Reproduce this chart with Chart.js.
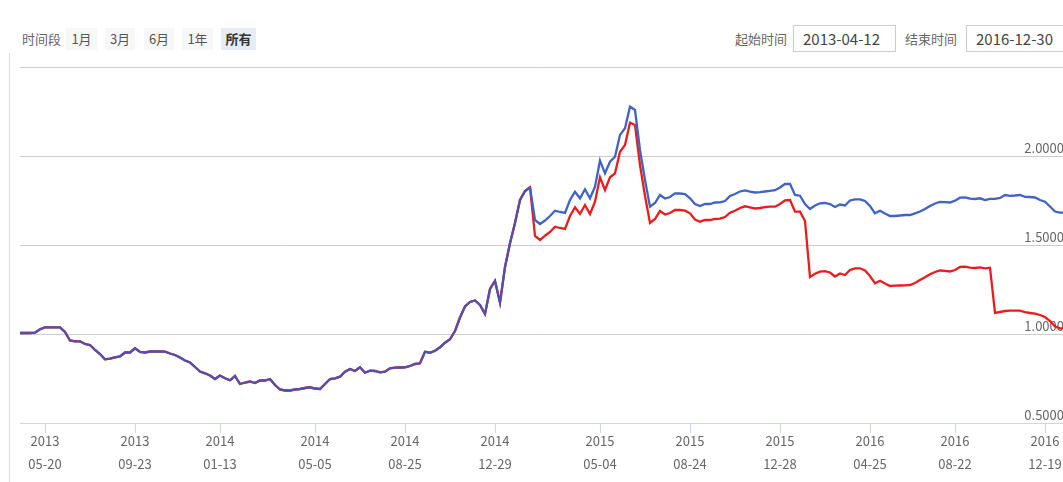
<!DOCTYPE html>
<html>
<head>
<meta charset="utf-8">
<script src="https://cdn.jsdelivr.net/npm/chart.js@4"></script>
<style>
  html, body { margin: 0; padding: 0; background: #fff; }
  body { width: 1063px; height: 482px; overflow: hidden; position: relative;
         font-family: "Noto Sans CJK SC", "Noto Sans", sans-serif; color: #666; }
  .lbl { position: absolute; top: 28px; height: 22px; line-height: 22px; font-size: 13px; color: #666; }
  .btn { position: absolute; top: 28px; height: 22px; line-height: 22px; font-size: 13px;
         color: #555; background: #f7f7f7; text-align: center; }
  .btn.on { background: #e6ebf5; color: #333; font-weight: bold; }
  .box { position: absolute; top: 25px; height: 25px; line-height: 25px; border: 1px solid #ccc;
         font-size: 15px; color: #444; padding-left: 9px; box-sizing: content-box; }
  #frame { position: absolute; left: 9px; top: 53px; width: 1px; height: 430px; background: #ddd; }
  #wrap { position: absolute; left: 0; top: 60px; width: 1066px; height: 422px; }
</style>
</head>
<body>
<div class="lbl" style="left:22px">时间段</div>
<div class="btn" style="left:66px;width:31px">1月</div>
<div class="btn" style="left:105px;width:30px">3月</div>
<div class="btn" style="left:144px;width:30px">6月</div>
<div class="btn" style="left:182px;width:31px">1年</div>
<div class="btn on" style="left:221px;width:35px">所有</div>

<div class="lbl" style="left:735px">起始时间</div>
<div class="box" style="left:793px;width:92px">2013-04-12</div>
<div class="lbl" style="left:905px">结束时间</div>
<div class="box" style="left:966px;width:110px">2016-12-30</div>

<div id="frame"></div>
<div id="wrap"><canvas id="navChart"></canvas></div>

<script>
// both series identical until the split at the start of 2015
const sharedValues = [
  1.0056, 1.0056, 1.0056, 1.0073, 1.0264, 1.0376, 1.0376, 1.0376, 1.0376, 1.0112,
  0.9635, 0.9590, 0.9590, 0.9438, 0.9382, 0.9101, 0.8876, 0.8579, 0.8612, 0.8691,
  0.8736, 0.8961, 0.8961, 0.9197, 0.8989, 0.8961, 0.9017, 0.9028, 0.9017, 0.9006,
  0.8904, 0.8820, 0.8680, 0.8511, 0.8399, 0.8146, 0.7893, 0.7792, 0.7669, 0.7472,
  0.7669, 0.7511, 0.7399, 0.7640, 0.7191, 0.7275, 0.7331, 0.7247, 0.7388, 0.7388,
  0.7472, 0.7135, 0.6882, 0.6826, 0.6826, 0.6882, 0.6910, 0.6966, 0.7006, 0.6938,
  0.6910, 0.7191, 0.7472, 0.7511, 0.7601, 0.7882, 0.8034, 0.7921, 0.8129, 0.7826,
  0.7938, 0.7921, 0.7848, 0.7882, 0.8073, 0.8107, 0.8118, 0.8129, 0.8202, 0.8315,
  0.8354, 0.9006, 0.8949, 0.9062, 0.9253, 0.9511, 0.9702, 1.0169, 1.0927, 1.1545,
  1.1798, 1.1882, 1.1629, 1.1124, 1.2528, 1.2978, 1.1758, 1.3764, 1.5096, 1.6236,
  1.7528, 1.8034, 1.8242
];

const blueAfter = [
  1.6404, 1.6180, 1.6376, 1.6629, 1.6927, 1.6854, 1.6798,
  1.7528, 1.7994, 1.7624, 1.8129, 1.7624, 1.8275, 1.9736, 1.9028, 1.9680, 1.9961,
  2.1180, 2.1556, 2.2770, 2.2584, 2.0337, 1.8652, 1.7152, 1.7360, 1.7809, 1.7612,
  1.7697, 1.7904, 1.7893, 1.7865, 1.7624, 1.7303, 1.7191, 1.7303, 1.7303, 1.7388,
  1.7399, 1.7472, 1.7753, 1.7865, 1.8006, 1.8062, 1.7994, 1.7949, 1.7966, 1.8006,
  1.8045, 1.8079, 1.8230, 1.8427, 1.8427, 1.7809, 1.7770, 1.7303, 1.7022, 1.7219,
  1.7343, 1.7360, 1.7303, 1.7135, 1.7275, 1.7219, 1.7500, 1.7567, 1.7567, 1.7472,
  1.7191, 1.6781, 1.6927, 1.6770, 1.6629, 1.6629, 1.6657, 1.6685, 1.6685, 1.6781,
  1.6882, 1.7022, 1.7191, 1.7331, 1.7416, 1.7404, 1.7388, 1.7489, 1.7657, 1.7669,
  1.7601, 1.7584, 1.7624, 1.7528, 1.7596, 1.7596, 1.7640, 1.7809, 1.7764, 1.7781,
  1.7809, 1.7708, 1.7697, 1.7669, 1.7528, 1.7433, 1.7163, 1.6882, 1.6815, 1.6815
];

const redAfter = [
  1.5506, 1.5281, 1.5522, 1.5730, 1.6028, 1.5955, 1.5899,
  1.6629, 1.7118, 1.6742, 1.7247, 1.6742, 1.7433, 1.8803, 1.8090, 1.8803, 1.9028,
  2.0242, 2.0618, 2.1871, 2.1742, 1.9494, 1.7753, 1.6236, 1.6461, 1.6910, 1.6713,
  1.6798, 1.6966, 1.6966, 1.6927, 1.6781, 1.6433, 1.6309, 1.6404, 1.6404, 1.6461,
  1.6478, 1.6573, 1.6815, 1.6927, 1.7079, 1.7174, 1.7118, 1.7051, 1.7079, 1.7124,
  1.7152, 1.7152, 1.7303, 1.7511, 1.7528, 1.6871, 1.6871, 1.6348, 1.3202, 1.3382,
  1.3500, 1.3528, 1.3455, 1.3230, 1.3399, 1.3315, 1.3596, 1.3691, 1.3691, 1.3567,
  1.3258, 1.2848, 1.2994, 1.2837, 1.2697, 1.2713, 1.2725, 1.2736, 1.2753, 1.2865,
  1.3034, 1.3185, 1.3354, 1.3483, 1.3567, 1.3551, 1.3511, 1.3596, 1.3764, 1.3781,
  1.3725, 1.3708, 1.3747, 1.3691, 1.3725, 1.1180, 1.1236, 1.1292, 1.1309, 1.1309,
  1.1309, 1.1225, 1.1180, 1.1140, 1.1067, 1.0955, 1.0730, 1.0421, 1.0320, 1.0320
];

// weekly points; only these ones carry a date label
const tickIndex = [5, 23, 40, 59, 77, 95, 116, 134, 152, 170, 187, 205];
const tickLabels = [
  ['2013', '05-20'], ['2013', '09-23'], ['2014', '01-13'], ['2014', '05-05'],
  ['2014', '08-25'], ['2014', '12-29'], ['2015', '05-04'], ['2015', '08-24'],
  ['2015', '12-28'], ['2016', '04-25'], ['2016', '08-22'], ['2016', '12-19']
];
const yTicks = [0.5, 1.0, 1.5, 2.0, 2.5];

const blueValues = sharedValues.concat(blueAfter);
const redValues = sharedValues.concat(redAfter);
const labels = blueValues.map(() => '');
tickIndex.forEach((idx, k) => { labels[idx] = tickLabels[k]; });
const splitAt = sharedValues.length - 1;

const ctx = document.getElementById('navChart').getContext('2d');
new Chart(ctx, {
  type: 'line',
  data: {
    labels: labels,
    datasets: [{
      data: blueValues,
      borderColor: '#3f63c6',
      borderWidth: 2.3,
      pointRadius: 0,
      tension: 0,
      segment: {
        borderColor: c => c.p1DataIndex <= splitAt ? '#5150aa' : '#3f63c6'
      }
    }, {
      data: redValues,
      borderColor: '#ec1c1c',
      borderWidth: 2.3,
      pointRadius: 0,
      tension: 0
    }]
  },
  options: {
    responsive: true,
    maintainAspectRatio: false,
    animation: false,
    layout: { padding: { left: 20, right: 1, top: 7, bottom: 0 } },
    plugins: { legend: { display: false }, tooltip: { enabled: false } },
    scales: {
      x: {
        type: 'category',
        offset: false,
        afterFit: s => { s.height = 59; },
        grid: { drawOnChartArea: false, drawTicks: true, tickLength: 10, color: '#ccd6eb' },
        border: { color: '#ccd6eb', width: 1 },
        ticks: {
          autoSkip: false,
          maxRotation: 0,
          padding: -3,
          color: '#666',
          font: { family: '"Noto Sans CJK SC", "Noto Sans", sans-serif', size: 13, lineHeight: '23px' },
          callback: function (value, index) { return labels[index] === '' ? null : labels[index]; }
        }
      },
      y: {
        position: 'right',
        min: 0.5,
        max: 2.5,
        afterFit: s => { s.width = 0; },
        afterBuildTicks: s => { s.ticks = yTicks.map(v => ({ value: v })); },
        grid: { color: '#cccccc', drawTicks: false },
        border: { display: false },
        ticks: {
          mirror: true,
          padding: -1,
          labelOffset: -8,
          color: '#666',
          font: { family: '"Noto Sans CJK SC", "Noto Sans", sans-serif', size: 13 },
          callback: v => v >= 2.5 ? '' : v.toFixed(4)
        }
      }
    }
  }
});
</script>
</body>
</html>
